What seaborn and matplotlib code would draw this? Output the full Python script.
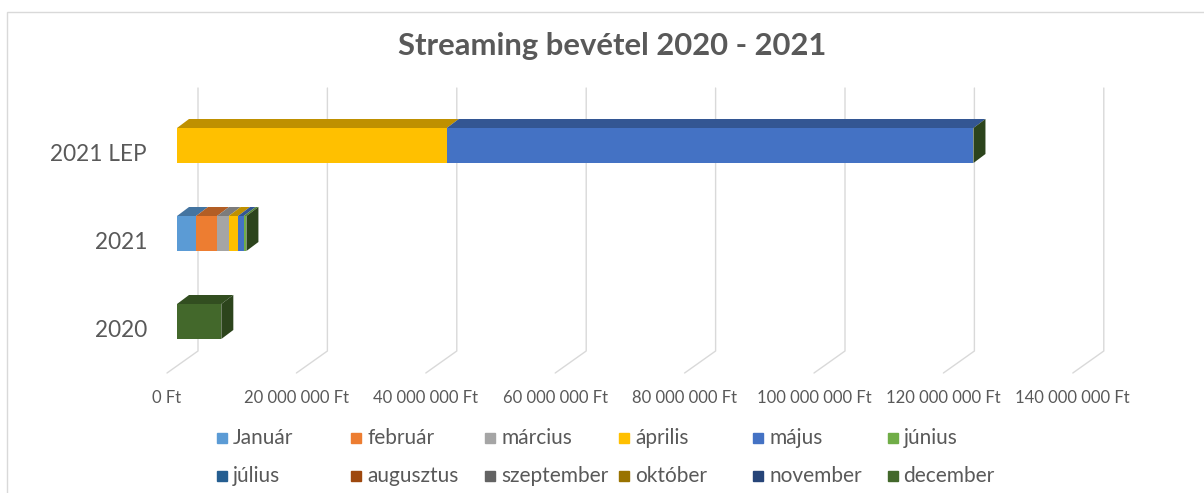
import numpy as np
import pandas as pd
import seaborn as sns
import matplotlib.pyplot as plt
from matplotlib.patches import Polygon, Rectangle
from matplotlib.colors import to_rgb

# adatok (Ft)
kategoriak = ["2021 LEP", "2021", "2020"]
honapok = ["Január", "február", "március", "április", "május", "június",
           "július", "augusztus", "szeptember", "október", "november", "december"]
szinek = ["#5B9BD5", "#ED7D31", "#A5A5A5", "#FFC000", "#4472C4", "#70AD47",
          "#255E91", "#9E480E", "#636363", "#997300", "#264478", "#43682B"]

januar = [0, 2_940_000, 0]
februar = [0, 3_250_000, 0]
marcius = [0, 1_800_000, 0]
aprilis = [41_700_000, 1_440_000, 0]
majus = [81_400_000, 880_000, 0]
junius = [0, 420_000, 0]
julius = [0, 0, 0]
augusztus = [0, 0, 0]
szeptember = [0, 0, 0]
oktober = [0, 0, 0]
november = [0, 0, 0]
december = [0, 0, 6_850_000]

tick_ertekek = [0, 20_000_000, 40_000_000, 60_000_000, 80_000_000,
                100_000_000, 120_000_000, 140_000_000]

df = pd.DataFrame({"kategoria": kategoriak})
for h, v in zip(honapok, [januar, februar, marcius, aprilis, majus, junius, julius,
                          augusztus, szeptember, oktober, november, december]):
    df[h] = v
cum = df[honapok].cumsum(axis=1)

W, H = 1204, 493
SZURKE = "#595959"
FONT = "Lato"

sns.set_theme(style="white")
plt.rcParams["font.family"] = [FONT, "DejaVu Sans"]

fig = plt.figure(figsize=(W / 100, H / 100), dpi=100)

# tengely geometria pixelben
S = 6.47e-6          # px / Ft
X0 = 177             # 0 Ft a rudak elején
L, R, T, B = 140, 1140, 80, 380
YC, YS = 145.5, 88   # első kategória közepe, px / kategória
ax = fig.add_axes([L / W, 1 - B / H, (R - L) / W, (B - T) / H])

def px_x(p):
    return (p - X0) / S

def px_y(p):
    return (p - YC) / YS

# rácsvonalak (hátsó fal + padló)
for t in tick_ertekek:
    xb = t + 21 / S
    xf = t - 10 / S
    ax.plot([xb, xb, xf], [px_y(88), px_y(351), px_y(373)], color="#d9d9d9",
            lw=1, zorder=0, clip_on=False)

# rudak elülső lapja
szel = 35 / YS
for h, c in reversed(list(zip(honapok, szinek))):
    sns.barplot(x=cum[h], y=df["kategoria"], color=c, orient="h", width=szel,
                saturation=1, linewidth=0, ax=ax, zorder=3)

def sotet(c, f):
    return tuple(np.array(to_rgb(c)) * f)

dx, dy = 12 / S, 9 / YS
for i in range(len(kategoriak)):
    ytop = i - szel / 2
    ybot = i + szel / 2
    elozo = 0
    for h, c in zip(honapok, szinek):
        v = df.loc[i, h]
        if v > 0:
            x0, x1 = elozo, elozo + v
            ax.add_patch(Polygon([(x0, ytop), (x1, ytop), (x1 + dx, ytop - dy), (x0 + dx, ytop - dy)],
                                 closed=True, color=sotet(c, 0.75), lw=0, zorder=4))
            elozo = x1
    ax.add_patch(Polygon([(elozo, ytop), (elozo + dx, ytop - dy), (elozo + dx, ybot - dy), (elozo, ybot)],
                         closed=True, color=sotet(szinek[-1], 0.65), lw=0, zorder=4))

ax.set_xlim(px_x(L), px_x(R))
ax.set_ylim(px_y(B), px_y(T))
ax.set_axis_off()

# tengelyfeliratok
for t in tick_ertekek:
    cimke = f"{t:,}".replace(",", " ") + " Ft"
    ax.text(t - 10 / S, px_y(398), cimke, ha="center", va="center",
            fontsize=12, color=SZURKE)
for i, k in enumerate(kategoriak):
    ax.text(px_x(147), i + 9 / YS, k, ha="right", va="center", fontsize=16.3, color=SZURKE)

fig.text(612 / W, 1 - 46 / H, "Streaming bevétel 2020 - 2021", ha="center", va="center",
         fontsize=22.3, fontweight="bold", color=SZURKE)

# jelmagyarázat
for i, (h, c) in enumerate(zip(honapok, szinek)):
    col, row = i % 6, i // 6
    xp = 217 + 134.1 * col
    yp = 438 + 38 * row
    fig.patches.append(Rectangle((xp / W, 1 - (yp + 5) / H), 10 / W, 10 / H,
                                 transform=fig.transFigure, color=c))
    fig.text((xp + 16) / W, 1 - yp / H, h, ha="left", va="center", fontsize=15, color=SZURKE)

# keret
fig.patches.append(Rectangle((7 / W, -0.1), 1.2, 1 - 12 / H + 0.1, transform=fig.transFigure,
                             fill=False, edgecolor="#d9d9d9", lw=1))

fig.savefig("out.png", dpi=100)
